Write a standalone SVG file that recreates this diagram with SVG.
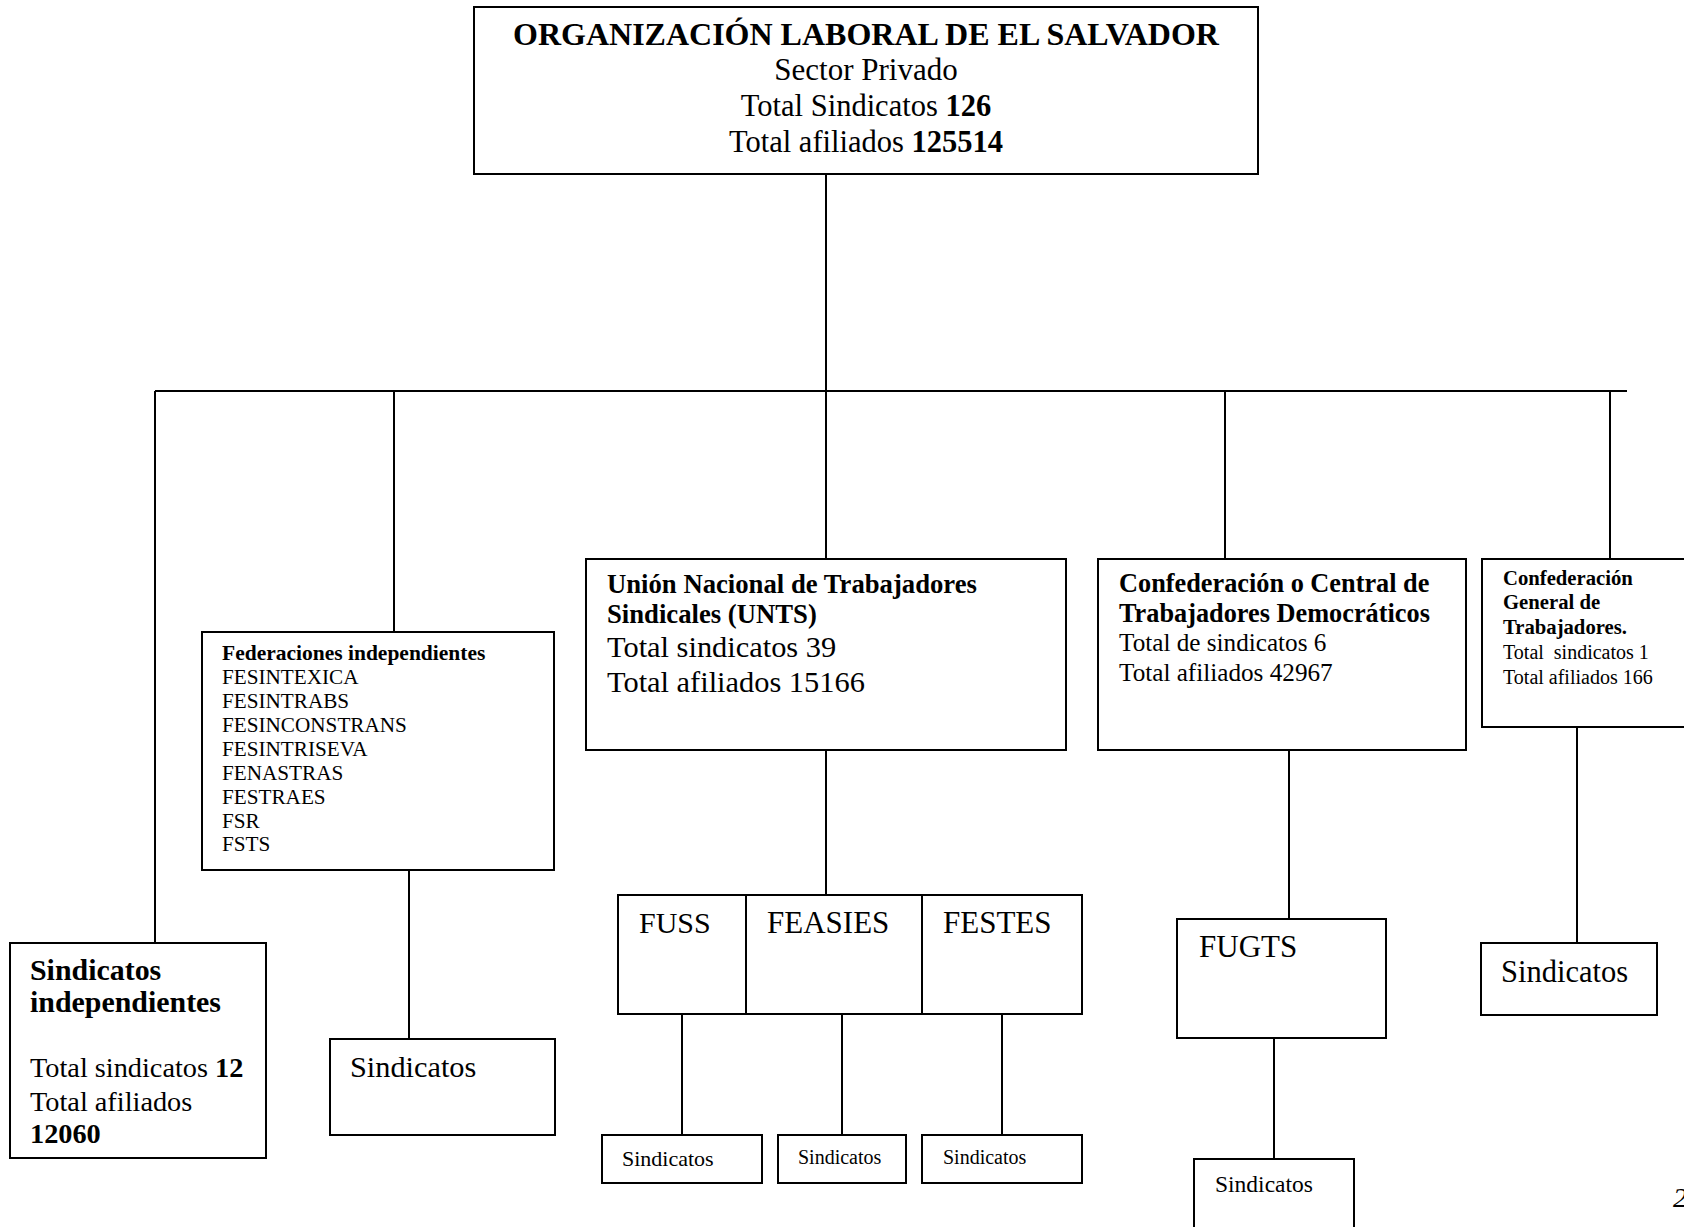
<svg xmlns="http://www.w3.org/2000/svg" width="1684" height="1227" viewBox="0 0 1684 1227">
<style>
.box{fill:#fff;stroke:#000;stroke-width:2}
.ln{stroke:#000;stroke-width:2;fill:none}
text{font-family:"Liberation Serif","Times New Roman",serif;fill:#000}
.b{font-weight:bold}
</style>
<rect width="1684" height="1227" fill="#fff"/>
<g id="connectors">
<line class="ln" x1="826" y1="175" x2="826" y2="391"/>
<line class="ln" x1="155" y1="391" x2="1627" y2="391"/>
<line class="ln" x1="155" y1="391" x2="155" y2="943"/>
<line class="ln" x1="394" y1="391" x2="394" y2="632"/>
<line class="ln" x1="826" y1="391" x2="826" y2="559"/>
<line class="ln" x1="1225" y1="391" x2="1225" y2="559"/>
<line class="ln" x1="1610" y1="391" x2="1610" y2="559"/>
<line class="ln" x1="409" y1="870" x2="409" y2="1039"/>
<line class="ln" x1="826" y1="750" x2="826" y2="895"/>
<line class="ln" x1="682" y1="1014" x2="682" y2="1135"/>
<line class="ln" x1="842" y1="1014" x2="842" y2="1135"/>
<line class="ln" x1="1002" y1="1014" x2="1002" y2="1135"/>
<line class="ln" x1="1289" y1="750" x2="1289" y2="919"/>
<line class="ln" x1="1274" y1="1038" x2="1274" y2="1159"/>
<line class="ln" x1="1577" y1="727" x2="1577" y2="943"/>
</g>
<g id="n-top">
<rect class="box" x="474" y="7" width="784" height="167"/>
<text x="866" y="45" text-anchor="middle" class="b" font-size="32">ORGANIZACIÓN LABORAL DE EL SALVADOR</text>
<text x="866" y="80" text-anchor="middle" font-size="31">Sector Privado</text>
<text x="866" y="116" text-anchor="middle" font-size="30.5">Total Sindicatos <tspan class="b">126</tspan></text>
<text x="866" y="152" text-anchor="middle" font-size="30.5">Total afiliados <tspan class="b">125514</tspan></text>
</g>
<g id="n-fed">
<rect class="box" x="202" y="632" width="352" height="238"/>
<text x="222" y="660" class="b" font-size="21.5">Federaciones independientes</text>
<g font-size="21.2">
<text x="222" y="684">FESINTEXICA</text>
<text x="222" y="708">FESINTRABS</text>
<text x="222" y="732">FESINCONSTRANS</text>
<text x="222" y="756">FESINTRISEVA</text>
<text x="222" y="780">FENASTRAS</text>
<text x="222" y="804">FESTRAES</text>
<text x="222" y="828">FSR</text>
<text x="222" y="851">FSTS</text>
</g>
</g>
<g id="n-unts">
<rect class="box" x="586" y="559" width="480" height="191"/>
<text x="607" y="593" class="b" font-size="26.7">Unión Nacional de Trabajadores</text>
<text x="607" y="623" class="b" font-size="26.7">Sindicales (UNTS)</text>
<text x="607" y="657" font-size="30.4">Total sindicatos 39</text>
<text x="607" y="692" font-size="30.4">Total afiliados 15166</text>
</g>
<g id="n-ctd">
<rect class="box" x="1098" y="559" width="368" height="191"/>
<text x="1119" y="592" class="b" font-size="26.3">Confederación o Central de</text>
<text x="1119" y="622" class="b" font-size="26.3">Trabajadores Democráticos</text>
<text x="1119" y="651" font-size="25.2">Total de sindicatos 6</text>
<text x="1119" y="681" font-size="25.2">Total afiliados 42967</text>
</g>
<g id="n-cgt">
<rect class="box" x="1482" y="559" width="220" height="168"/>
<text x="1503" y="585" class="b" font-size="20.7">Confederación</text>
<text x="1503" y="609" class="b" font-size="20.7">General de</text>
<text x="1503" y="634" class="b" font-size="20.7">Trabajadores.</text>
<text x="1503" y="659" font-size="20" xml:space="preserve">Total  sindicatos 1</text>
<text x="1503" y="684" font-size="20">Total afiliados 166</text>
</g>
<g id="n-sindind">
<rect class="box" x="10" y="943" width="256" height="215"/>
<text x="30" y="980" class="b" font-size="29.9">Sindicatos</text>
<text x="30" y="1012" class="b" font-size="29.9">independientes</text>
<text x="30" y="1077" font-size="28.3">Total sindicatos <tspan class="b">12</tspan></text>
<text x="30" y="1111" font-size="28.3">Total afiliados</text>
<text x="30" y="1143" class="b" font-size="28.3">12060</text>
</g>
<g id="n-sind-fed">
<rect class="box" x="330" y="1039" width="225" height="96"/>
<text x="350" y="1077" font-size="30.3">Sindicatos</text>
</g>
<g id="n-fed-row">
<rect class="box" x="618" y="895" width="464" height="119"/>
<line class="ln" x1="746" y1="895" x2="746" y2="1014"/>
<line class="ln" x1="922" y1="895" x2="922" y2="1014"/>
<text x="639" y="933" font-size="30">FUSS</text>
<text x="767" y="933" font-size="31">FEASIES</text>
<text x="943" y="933" font-size="31">FESTES</text>
</g>
<g id="n-sind-fuss">
<rect class="box" x="602" y="1135" width="160" height="48"/>
<text x="622" y="1166" font-size="22">Sindicatos</text>
</g>
<g id="n-sind-feasies">
<rect class="box" x="778" y="1135" width="128" height="48"/>
<text x="798" y="1164" font-size="20">Sindicatos</text>
</g>
<g id="n-sind-festes">
<rect class="box" x="922" y="1135" width="160" height="48"/>
<text x="943" y="1164" font-size="20">Sindicatos</text>
</g>
<g id="n-fugts">
<rect class="box" x="1177" y="919" width="209" height="119"/>
<text x="1199" y="957" font-size="31">FUGTS</text>
</g>
<g id="n-sind-fugts">
<rect class="box" x="1194" y="1159" width="160" height="80"/>
<text x="1215" y="1192" font-size="23.5">Sindicatos</text>
</g>
<g id="n-sind-cgt">
<rect class="box" x="1481" y="943" width="176" height="72"/>
<text x="1501" y="982" font-size="30.5">Sindicatos</text>
</g>
<text x="1673" y="1207" font-size="28" font-style="italic">2</text>
</svg>
